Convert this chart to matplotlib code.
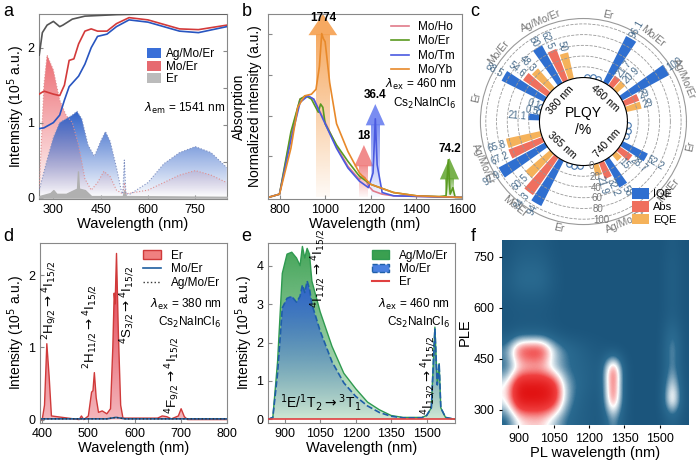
import numpy as np
import matplotlib
matplotlib.use("Agg")
import matplotlib.pyplot as plt
from matplotlib.colors import to_rgb, LinearSegmentedColormap
from matplotlib.patches import Rectangle

plt.rcParams['font.family'] = ['Arial', 'Liberation Sans', 'DejaVu Sans']
plt.rcParams['font.size'] = 9
plt.rcParams['mathtext.fontset'] = 'dejavusans'

# ---------------- data: panel a ----------------
a_abs_x = [255, 265, 280, 300, 320, 330, 360, 400, 500, 600, 850]
a_abs_er = [1.9, 2.2, 2.3, 2.35, 2.28, 2.3, 2.38, 2.42, 2.44, 2.45, 2.45]
a_abs_x2 = [255, 270, 300, 320, 335, 350, 365, 380, 400, 420, 440, 470, 500, 540, 600, 700, 760, 850]
a_abs_moer = [1.38, 1.42, 1.38, 1.36, 1.5, 1.83, 1.85, 2.05, 2.22, 2.25, 2.22, 2.22, 2.32, 2.4, 2.37, 2.25, 2.24, 2.3]
a_abs_agmoer = [0.92, 0.93, 1.0, 1.1, 1.3, 1.48, 1.55, 1.62, 1.78, 2.0, 2.15, 2.18, 2.28, 2.37, 2.34, 2.22, 2.2, 2.28]
a_ple_x = [255, 280, 300, 320, 340, 360, 375, 390, 410, 430, 450, 465, 480, 500, 515, 520, 525, 530, 545, 600, 650, 700, 750, 800, 850]
a_ple_agmoer = [0.1, 0.5, 0.8, 1.0, 1.05, 1.1, 1.15, 1.05, 0.7, 0.55, 0.75, 0.88, 0.75, 0.4, 0.1, 0.05, 0.5, 0.05, 0.05, 0.2, 0.45, 0.6, 0.68, 0.6, 0.4]
a_ple_moer_x = [255, 270, 280, 290, 300, 320, 340, 360, 380, 400, 420, 440, 460, 480, 500, 520, 525, 530, 600, 700, 750, 800, 850]
a_ple_moer = [0.1, 1.5, 1.9, 1.8, 1.7, 1.3, 1.1, 1.0, 0.7, 0.25, 0.1, 0.2, 0.35, 0.28, 0.1, 0.05, 0.2, 0.05, 0.1, 0.3, 0.36, 0.3, 0.2]
a_ple_er_x = [255, 290, 300, 310, 340, 365, 375, 378, 381, 400, 420, 520, 525, 530, 850]
a_ple_er = [0.02, 0.06, 0.1, 0.05, 0.05, 0.1, 0.12, 0.35, 0.12, 0.1, 0.02, 0.02, 0.1, 0.02, 0.01]

# ---------------- data: panel b ----------------
b_yb_x = [750, 800, 850, 880, 910, 940, 960, 975, 985, 992, 1000, 1020, 1050, 1100, 1150, 1200, 1300, 1400, 1600]
b_yb = [0, 0.02, 0.3, 0.55, 0.62, 0.63, 0.66, 0.8, 1.0, 0.97, 0.95, 0.7, 0.45, 0.28, 0.15, 0.08, 0.03, 0.01, 0]
b_er_x = [750, 800, 850, 890, 915, 940, 970, 980, 990, 1000, 1050, 1100, 1150, 1200, 1300, 1400, 1500, 1530, 1540, 1548, 1560, 1570, 1600]
b_er = [0, 0.02, 0.4, 0.6, 0.62, 0.6, 0.52, 0.57, 0.55, 0.45, 0.32, 0.22, 0.13, 0.08, 0.03, 0.01, 0.005, 0.01, 0.23, 0.02, 0.06, 0.0, 0]
b_tm_x = [750, 800, 850, 890, 925, 950, 1000, 1050, 1100, 1150, 1190, 1210, 1220, 1228, 1250, 1300, 1600]
b_tm = [0, 0.02, 0.35, 0.58, 0.62, 0.6, 0.45, 0.3, 0.18, 0.1, 0.06, 0.15, 0.48, 0.2, 0.03, 0.01, 0]
b_ho_x = [750, 800, 850, 890, 920, 950, 1000, 1050, 1100, 1150, 1165, 1175, 1190, 1210, 1250, 1300, 1600]
b_ho = [0, 0.02, 0.38, 0.6, 0.62, 0.6, 0.46, 0.31, 0.19, 0.11, 0.13, 0.12, 0.07, 0.04, 0.02, 0.01, 0]
b_arrow_x = [990, 1170, 1220, 1545]
b_arrow_top = [1.12, 0.32, 0.57, 0.24]
b_arrow_lab = ['1774', '18', '36.4', '74.2']

# ---------------- data: panel c ----------------
c_sectors = ['380 nm', '460 nm', '740 nm', '365 nm']
c_samples = ['Er', 'Mo/Er', 'Ag/Mo/Er']
c_iqe = [[21.1, 88.5, 80], [0, 96.1, 100], [0, 52.2, 58], [0, 94, 97.9]]
c_abs = [[0.5, 54.6, 62.5], [0, 21.7, 29], [0, 28.7, 32.2], [0, 84.3, 67.2]]
c_eqe = [[0.1, 48.3, 50], [0, 20.9, 29], [0, 15, 21.9], [0, 60.5, 65.8]]

# ---------------- data: panel d ----------------
d_x = [395, 400, 405, 410, 415, 420, 480, 485, 490, 500, 507, 510, 513, 517, 522, 530, 540, 548, 553, 556, 558, 561, 565, 570, 575, 650, 660, 670, 680, 695, 701, 708, 715, 800]
d_er = [0, 0, 0.2, 1.05, 0.6, 0.05, 0.0, 0.05, 0, 0.05, 0.38, 0.4, 0.65, 0.3, 0.1, 0.12, 0.08, 0.15, 1.0, 1.75, 1.6, 2.3, 1.2, 0.2, 0.02, 0.02, 0.05, 0.04, 0.01, 0.05, 0.15, 0.04, 0, 0]
d_mo_x = [395, 540, 560, 580, 800]
d_moer = [0.01, 0.01, 0.03, 0.01, 0.01]

# ---------------- data: panel e ----------------
e_x = [830, 850, 870, 890, 910, 930, 950, 965, 975, 985, 995, 1005, 1015, 1050, 1100, 1150, 1200, 1250, 1300, 1350, 1400, 1480, 1500, 1520, 1535, 1545, 1553, 1560, 1580, 1620]
e_agmoer = [0, 0.05, 1.5, 3.8, 4.3, 4.35, 4.2, 4.0, 4.5, 4.2, 4.45, 4.3, 3.6, 2.8, 1.9, 1.2, 0.8, 0.45, 0.25, 0.1, 0.05, 0.05, 0.1, 0.3, 2.4, 0.9, 1.45, 0.3, 0.05, 0]
e_moer = [0, 0.05, 1.2, 2.9, 3.15, 3.2, 3.05, 3.2, 3.5, 3.3, 3.6, 3.4, 3.0, 2.3, 1.5, 0.95, 0.6, 0.35, 0.18, 0.08, 0.04, 0.04, 0.1, 0.3, 2.35, 0.9, 1.45, 0.3, 0.05, 0]
e_er = [0.02] * 30

# ---------------- data: panel f ----------------
f_pl = [850, 900, 950, 1000, 1050, 1100, 1150, 1200, 1250, 1300, 1350, 1400, 1450, 1500, 1550, 1600]
f_ple = [275, 325, 375, 425, 475, 525, 575, 625, 675, 725, 775]
f_map = [
    [0.2, 0.5, 0.55, 0.55, 0.4, 0.25, 0.15, 0.1, 0.05, 0.4, 0.05, 0, 0, 0, 0.2, 0],
    [0.5, 1.0, 1.0, 1.0, 0.9, 0.4, 0.2, 0.1, 0.05, 0.9, 0.05, 0, 0, 0, 0.8, 0],
    [0.5, 1.0, 1.0, 1.0, 0.9, 0.4, 0.25, 0.15, 0.08, 0.9, 0.05, 0, 0, 0, 0.6, 0],
    [0.2, 0.45, 0.5, 0.5, 0.35, 0.25, 0.2, 0.15, 0.08, 0.95, 0.05, 0, 0, 0, 0.4, 0],
    [0.35, 0.85, 0.9, 0.9, 0.5, 0.3, 0.2, 0.1, 0.05, 0, 0, 0, 0, 0, 0.45, 0],
    [0.05, 0.1, 0.1, 0.1, 0.05, 0, 0, 0, 0, 0, 0, 0, 0, 0, 0.35, 0],
    [0.02, 0.05, 0.05, 0.05, 0.02, 0, 0, 0, 0, 0, 0, 0, 0, 0, 0.15, 0],
    [0.05, 0.1, 0.1, 0.1, 0.03, 0, 0, 0, 0, 0, 0, 0, 0, 0, 0.15, 0],
    [0.1, 0.25, 0.28, 0.25, 0.08, 0, 0, 0, 0, 0, 0, 0, 0, 0, 0.15, 0],
    [0.05, 0.18, 0.2, 0.18, 0.05, 0, 0, 0, 0, 0, 0, 0, 0, 0, 0.15, 0],
    [0.02, 0.08, 0.1, 0.08, 0.02, 0, 0, 0, 0, 0, 0, 0, 0, 0, 0.1, 0],
]

BLUE = '#2f62c8'


def grad_fill(ax, x, y, color, a_top=0.95, a_bot=0.0, z=1):
    poly = ax.fill_between(x, y, 0, facecolor='none', edgecolor='none')
    ymax = max(y)
    img = np.zeros((200, 1, 4))
    img[:, :, :3] = to_rgb(color)
    img[:, 0, 3] = np.linspace(a_bot, a_top, 200)
    im = ax.imshow(img, aspect='auto', extent=[min(x), max(x), 0, ymax],
                   origin='lower', zorder=z, interpolation='bilinear')
    im.set_clip_path(poly.get_paths()[0], transform=ax.transData)


fig = plt.figure(figsize=(7, 4.63), dpi=100)


def style(ax):
    for s in ax.spines.values():
        s.set_color('#888888')
    ax.tick_params(direction='in', length=3, color='#888888', labelsize=9)


# ---------------- a ----------------
ax = fig.add_axes([0.056, 0.57, 0.268, 0.40])
grad_fill(ax, a_ple_x, a_ple_agmoer, BLUE, 1.0, 0.0, 2)
grad_fill(ax, a_ple_moer_x, a_ple_moer, '#e8474f', 0.8, 0.0, 1)
ax.fill_between(a_ple_er_x, a_ple_er, 0, color='#b0b0b0', zorder=3)
ax.plot(a_ple_moer_x, a_ple_moer, ':', color='#e09090', lw=0.8, zorder=4)
ax.plot(a_ple_x, a_ple_agmoer, ':', color='#8090c0', lw=0.8, zorder=4)
ax.plot(a_abs_x, a_abs_er, color='#555555', lw=1.2, zorder=5)
ax.plot(a_abs_x2, a_abs_moer, color='#d33a3a', lw=1.2, zorder=5)
ax.plot(a_abs_x2, a_abs_agmoer, color='#2855c0', lw=1.2, zorder=5)
ax.set_xlim(255, 850)
ax.set_ylim(-0.02, 2.45)
ax.set_xticks([300, 450, 600, 750])
ax.set_yticks([0, 1, 2])
ax.set_xlabel('Wavelength (nm)', fontsize=10.5, labelpad=1)
ax.set_ylabel('Intennsity (10$^5$ a.u.)', fontsize=10, labelpad=0)
style(ax)
ax2 = ax.twinx()
ax2.set_yticks([0.2, 0.4, 0.6, 0.8])
ax2.set_yticklabels([])
ax2.tick_params(direction='in', length=3, color='#888888')
ax2.set_ylabel('Absorption', fontsize=10, labelpad=0)
for s in ax2.spines.values():
    s.set_visible(False)
hs = [Rectangle((0, 0), 1, 1, fc=c, ec='none') for c in ['#3a6fd8', '#e66a70', '#bbbbbb']]
ax.legend(hs, ['Ag/Mo/Er', 'Mo/Er', 'Er'], loc='upper left', bbox_to_anchor=(0.55, 0.84),
          frameon=False, fontsize=8.5, handlelength=1.2, handleheight=0.9, labelspacing=0.05,
          handletextpad=0.4, borderaxespad=0.0)
ax.text(0.56, 0.47, r'$\lambda_{\rm em}$ = 1541 nm', transform=ax.transAxes, fontsize=8.5)
fig.text(0.005, 0.965, 'a', fontsize=13)

# ---------------- b ----------------
ax = fig.add_axes([0.383, 0.57, 0.277, 0.40])
acols = ['#f5a050', '#f08080', '#6a80f0', '#6aaa3a']
for xa, top, lab, c in zip(b_arrow_x, b_arrow_top, b_arrow_lab, acols):
    w = 60 if lab == '1774' else 40
    grad_fill(ax, [xa - w / 2, xa + w / 2], [top - 0.12, top - 0.12], c, 0.9, 0.05, 0)
    ax.fill([xa - w * 1.05, xa, xa + w * 1.05], [top - 0.13, top, top - 0.13], color=c, alpha=0.9, lw=0, zorder=0)
    ax.text(xa, top - 0.06 if lab == '1774' else top + 0.02, lab, ha='center', va='bottom',
            fontsize=8.5, fontweight='bold')
ax.plot(b_ho_x, b_ho, color='#e07a8a', lw=1.2, label='Mo/Ho')
ax.plot(b_er_x, b_er, color='#5a9a20', lw=1.2, label='Mo/Er')
ax.plot(b_tm_x, b_tm, color='#4a5ae0', lw=1.2, label='Mo/Tm')
ax.plot(b_yb_x, b_yb, color='#e8892a', lw=1.2, label='Mo/Yb')
ax.set_xlim(750, 1600)
ax.set_ylim(-0.01, 1.12)
ax.set_xticks([800, 1000, 1200, 1400, 1600])
ax.set_yticks([0.25, 0.5, 0.75, 1.0])
ax.set_yticklabels([])
ax.set_xlabel('Wavelength (nm)', fontsize=10.5, labelpad=1)
ax.set_ylabel('Normalized intensity (a.u.)', fontsize=10, labelpad=1)
style(ax)
ax.legend(loc='upper right', frameon=False, fontsize=8.5, handlelength=1.5, labelspacing=0.2,
          borderaxespad=0.2)
ax.text(0.97, 0.6, r'$\lambda_{\rm ex}$ = 460 nm', transform=ax.transAxes, ha='right', fontsize=8.5)
ax.text(0.97, 0.5, r'Cs$_2$NaInCl$_6$', transform=ax.transAxes, ha='right', fontsize=8.5)
fig.text(0.345, 0.965, 'b', fontsize=13)

# ---------------- c ----------------
axc = fig.add_axes([0.686, 0.515, 0.295, 0.445], projection='polar')
axc.set_rorigin(-82)
axc.set_ylim(0, 110)
sec_start = [180, 90, 360, 270]
sec_col = ['#f5b030', '#e2c8f2', '#8fdc8f', '#f4a07a']
bw = np.deg2rad(7)
offs = [[5, 12, 19], [30, 38, 46], [58, 66, 74]]
cols3 = ['#2f6fd0', '#ef6f5e', '#f5b25a']
for si in range(4):
    s = sec_start[si]
    axc.bar(np.deg2rad(s - 42), 32, width=np.deg2rad(78), bottom=-39, color=sec_col[si], edgecolor='none')
    ang_t = s - 42
    dd = ang_t % 360
    rot = dd - 90 if 0 <= dd <= 180 else dd + 90
    axc.text(np.deg2rad(ang_t), -23, c_sectors[si], ha='center', va='center', rotation=rot,
             rotation_mode='anchor', fontsize=7.5)
    for gi in range(3):
        vals = [c_iqe[si][gi], c_abs[si][gi], c_eqe[si][gi]]
        for bi in range(3):
            ang = np.deg2rad(s - offs[gi][bi])
            v = vals[bi]
            if v < 1:
                axc.plot([ang], [2], 'o', mfc='none', mec='#4a7ab0', ms=4, mew=0.8)
                if v == 0:
                    continue
            else:
                axc.bar(ang, v, width=bw, bottom=0, color=cols3[bi], edgecolor='none')
            deg = (s - offs[gi][bi]) % 360
            right = (deg <= 90 or deg >= 270)
            r = deg if right else deg + 180
            axc.text(ang, v + 3, f'{v:g}', rotation=r, rotation_mode='anchor',
                     ha='left' if right else 'right', va='center',
                     fontsize=7, color='#4a6d8c')
        lab_deg = s - (offs[gi][1] + 1)
        dd = lab_deg % 360
        rot = dd - 90 if 0 <= dd <= 180 else dd + 90
        axc.text(np.deg2rad(lab_deg), 122, c_samples[gi], ha='center', va='center', rotation=rot,
                 fontsize=7.5, color='#777777')
axc.set_xticks([])
axc.set_rticks([0, 20, 40, 60, 80, 100])
axc.set_yticklabels([])
axc.grid(True, ls='--', color='#999999', lw=0.6)
axc.spines['polar'].set_color('#999999')
axc.spines['polar'].set_linewidth(0.8)
axc.spines['inner'].set_visible(False)
for v in [0, 20, 40, 60, 80, 100]:
    axc.text(np.deg2rad(276), v + 2, str(v), fontsize=7, color='#777777', ha='left', va='center')
axc.text(0, -82, 'PLQY\n/%', ha='center', va='center', fontsize=10)
hs = [Rectangle((0, 0), 1, 1, fc=c) for c in cols3]
axc.legend(hs, ['IQE', 'Abs', 'EQE'], loc='lower right', bbox_to_anchor=(1.0, -0.05), frameon=False,
           fontsize=8, handlelength=1.5, handleheight=1.1, labelspacing=0.15, handletextpad=0.4)
fig.text(0.672, 0.965, 'c', fontsize=13)

# ---------------- d ----------------
ax = fig.add_axes([0.057, 0.086, 0.267, 0.39])
grad_fill(ax, d_x, d_er, '#e03040', 1.0, 0.35, 1)
ax.plot(d_x, d_er, color='#d03a3a', lw=1.0)
ax.plot(d_mo_x, d_moer, color='#1f5fa0', lw=1.2, label='Mo/Er')
ax.plot(d_mo_x, d_moer, ':', color='#333333', lw=1.0, label='Ag/Mo/Er')
ax.set_xlim(395, 800)
ax.set_ylim(-0.05, 2.45)
ax.set_xticks([400, 500, 600, 700, 800])
ax.set_yticks([0, 1, 2])
ax.set_xlabel('Wavelength (nm)', fontsize=10.5, labelpad=1)
ax.set_ylabel('Intensity (10$^5$ a.u.)', fontsize=10, labelpad=1)
style(ax)
h0 = Rectangle((0, 0), 1, 1, fc='#f08080', ec='#d03a3a')
hl = ax.get_legend_handles_labels()
ax.legend([h0] + hl[0], ['Er'] + hl[1], loc='upper right', frameon=False, fontsize=8.5,
          handlelength=1.5, labelspacing=0.15, borderaxespad=0.2)
ax.text(0.97, 0.64, r'$\lambda_{\rm ex}$ = 380 nm', transform=ax.transAxes, ha='right', fontsize=8.5)
ax.text(0.97, 0.54, r'Cs$_2$NaInCl$_6$', transform=ax.transAxes, ha='right', fontsize=8.5)
ax.text(416, 1.1, r'$^2$H$_{9/2}$$\rightarrow$$^4$I$_{15/2}$', rotation=90, fontsize=9.5, ha='center', va='bottom')
ax.text(505, 0.7, r'$^2$H$_{11/2}$$\rightarrow$$^4$I$_{15/2}$', rotation=90, fontsize=9.5, ha='center', va='bottom')
ax.text(585, 1.05, r'$^4$S$_{3/2}$$\rightarrow$$^4$I$_{15/2}$', rotation=90, fontsize=9.5, ha='center', va='bottom')
ax.text(683, 0.08, r'$^4$F$_{9/2}$$\rightarrow$$^4$I$_{15/2}$', rotation=90, fontsize=9.5, ha='center', va='bottom')
fig.text(0.005, 0.48, 'd', fontsize=13)

# ---------------- e ----------------
ax = fig.add_axes([0.383, 0.086, 0.267, 0.39])
grad_fill(ax, e_x, e_agmoer, '#3aa050', 0.95, 0.25, 1)
grad_fill(ax, e_x, e_moer, '#2f62d0', 1.0, 0.0, 2)
ax.plot(e_x, e_agmoer, color='#2f9a50', lw=1.0, zorder=3)
ax.plot(e_x, e_moer, '--', color='#1f5fa8', lw=1.2, zorder=3)
ax.plot(e_x, e_er, color='#e04040', lw=1.2, zorder=3)
ax.set_xlim(830, 1620)
ax.set_ylim(-0.1, 4.6)
ax.set_xticks([900, 1050, 1200, 1350, 1500])
ax.set_yticks([0, 1, 2, 3, 4])
ax.set_xlabel('Wavelength (nm)', fontsize=10.5, labelpad=1)
ax.set_ylabel('Intensity (10$^5$ a.u.)', fontsize=10, labelpad=1)
style(ax)
hs = [Rectangle((0, 0), 1, 1, fc='#3aa050', ec='#2f9a50'),
      Rectangle((0, 0), 1, 1, fc='#4a80e0', ec='#1f5fa8', ls='--'),
      plt.Line2D([], [], color='#e04040')]
ax.legend(hs, ['Ag/Mo/Er', 'Mo/Er', 'Er'], loc='upper right', frameon=False, fontsize=8.5,
          handlelength=1.5, labelspacing=0.1, borderaxespad=0.2)
ax.text(0.97, 0.64, r'$\lambda_{\rm ex}$ = 460 nm', transform=ax.transAxes, ha='right', fontsize=8.5)
ax.text(0.97, 0.54, r'Cs$_2$NaInCl$_6$', transform=ax.transAxes, ha='right', fontsize=8.5)
ax.text(1045, 2.9, r'$^4$I$_{11/2}$$\rightarrow$$^4$I$_{15/2}$', rotation=90, fontsize=9.5, ha='center', va='bottom')
ax.text(1510, 0.1, r'$^4$I$_{13/2}$$\rightarrow$$^4$I$_{15/2}$', rotation=90, fontsize=9.5, ha='center', va='bottom')
ax.text(880, 0.3, r'$^1$E/$^1$T$_2$$\rightarrow$$^3$T$_1$', fontsize=10)
fig.text(0.345, 0.48, 'e', fontsize=13)

# ---------------- f ----------------
ax = fig.add_axes([0.717, 0.082, 0.266, 0.40])
cmap = LinearSegmentedColormap.from_list('bwr2', ['#1b557c', '#2a6a90', '#ffffff', '#f04040', '#e01010'])
ax.imshow(np.array(f_map), origin='lower', aspect='auto', cmap=cmap, vmin=0, vmax=1,
          extent=[825, 1625, 250, 800], interpolation='bicubic')
ax.set_xlim(830, 1620)
ax.set_ylim(255, 800)
ax.set_xticks([900, 1050, 1200, 1350, 1500])
ax.set_yticks([300, 450, 600, 750])
ax.set_xlabel('PL wavelength (nm)', fontsize=10.5, labelpad=1)
ax.set_ylabel('PLE', fontsize=10.5, labelpad=1)
ax.tick_params(labelsize=9, length=2)
for s in ax.spines.values():
    s.set_visible(False)
fig.text(0.672, 0.48, 'f', fontsize=13)

fig.savefig('out.png', dpi=100)
